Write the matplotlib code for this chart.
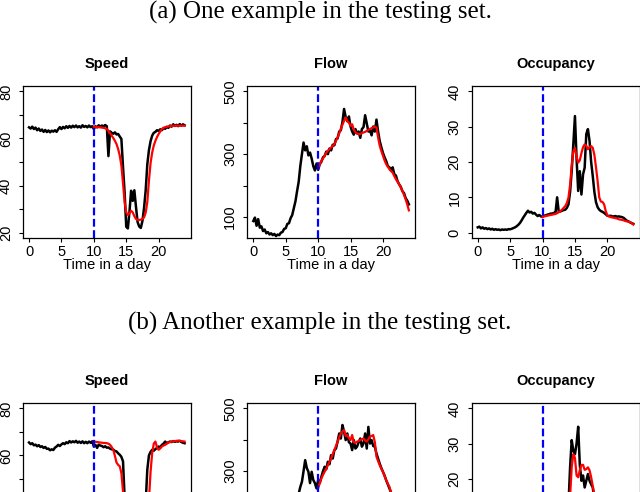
import numpy as np
import matplotlib
matplotlib.use("Agg")
import matplotlib.pyplot as plt

# observed series sampled every 15 min from 0h to 24h (rows = 2 hours),
# predictions every 15 min from 10h to 24h

speed_a_obs = [
    64.7, 64.2, 65.0, 64.0, 64.6, 63.5, 64.2, 63.2,
    63.8, 62.8, 63.6, 62.7, 63.4, 62.6, 63.3, 62.9,
    63.5, 62.8, 63.9, 64.8, 64.0, 64.9, 64.3, 65.2,
    64.5, 65.3, 64.6, 65.4, 64.8, 65.5, 64.7, 65.2,
    64.6, 65.6, 64.9, 65.3, 64.7, 65.5, 64.8, 65.2,
    64.0, 65.2, 64.7, 65.6, 65.0, 65.5, 65.1, 65.7,
    65.2, 52.5, 63.0, 62.4, 62.0, 62.6, 61.7, 61.9,
    60.8, 59.8, 48.0, 37.0, 22.5, 21.8, 29.0, 37.8,
    33.5, 38.0, 31.0, 24.5, 22.6, 22.0, 25.0, 30.5,
    38.0, 49.0, 55.0, 58.8, 61.2, 62.4, 62.8, 63.5,
    63.2, 63.9, 63.5, 64.4, 64.1, 64.9, 64.5, 65.5,
    65.0, 66.0, 65.3, 65.8, 65.2, 66.1, 65.4, 66.0,
    65.6]
speed_a_pred = [
    65.0, 64.9, 64.8, 64.8, 64.7, 64.6, 64.5, 64.3,
    64.0, 63.3, 62.3, 61.2, 60.2, 59.0, 57.6, 55.5,
    52.7, 48.5, 41.0, 33.0, 28.6, 27.5, 28.3, 29.3,
    28.6, 27.0, 25.8, 25.4, 25.4, 25.5, 25.8, 26.5,
    28.5, 33.0, 42.0, 49.5, 54.0, 57.0, 59.0, 60.6,
    61.9, 63.0, 64.0, 64.5, 64.8, 65.0, 65.1, 65.2,
    65.3, 65.4, 65.4, 65.4, 65.4, 65.4, 65.4, 65.4,
    65.4]

flow_a_obs = [
    87, 98, 72, 93, 66, 70, 55, 60,
    48, 52, 44, 48, 42, 46, 39, 44,
    42, 50, 52, 62, 64, 78, 80, 96,
    106, 128, 150, 182, 212, 262, 300, 337,
    312, 325, 296, 305, 286, 262, 248, 270,
    250, 268, 276, 290, 294, 308, 300, 318,
    312, 330, 328, 348, 350, 372, 376, 402,
    444, 418, 405, 420, 388, 372, 362, 380,
    366, 372, 352, 380, 386, 424, 398, 372,
    376, 360, 388, 372, 410, 372, 342, 322,
    304, 290, 278, 262, 258, 248, 258, 236,
    232, 214, 204, 196, 182, 176, 160, 152,
    140]
flow_a_pred = [
    257, 268, 279, 286, 295, 304, 311, 316,
    321, 326, 332, 342, 353, 366, 380, 394,
    406, 417, 405, 400, 390, 395, 378, 370,
    366, 364, 364, 367, 369, 371, 374, 377,
    380, 383, 385, 388, 385, 353, 327, 310,
    295, 280, 268, 260, 252, 246, 241, 230,
    220, 212, 204, 194, 183, 170, 156, 140,
    121]

occ_a_obs = [
    1.5, 1.7, 1.2, 1.5, 1.1, 1.3, 1.0, 1.2,
    0.9, 1.1, 0.8, 1.0, 0.8, 0.9, 0.7, 0.9,
    0.8, 0.9, 0.8, 1.0, 0.95, 1.1, 1.3, 1.5,
    1.8, 2.2, 2.7, 3.4, 4.2, 4.9, 5.6, 6.2,
    5.7, 5.9, 5.4, 5.6, 5.1, 4.7, 5.0, 4.6,
    4.5, 4.8, 4.9, 5.1, 5.2, 5.4, 5.4, 5.6,
    5.6, 10.0, 5.9, 6.0, 6.2, 6.4, 6.5, 7.0,
    8.0, 11.5, 17.5, 25.0, 33.0, 21.0, 11.8, 17.4,
    10.8, 16.5, 18.4, 27.9, 29.3, 26.0, 20.0, 16.0,
    11.5, 8.6, 7.2, 6.5, 6.1, 5.9, 5.6, 5.2,
    4.8, 4.7, 4.8, 4.6, 4.6, 4.7, 4.5, 4.6,
    4.5, 4.4, 4.2, 3.8, 3.4, 3.2, 2.9, 2.7,
    2.5]
occ_a_pred = [
    4.4, 4.6, 4.7, 4.8, 4.9, 5.0, 5.1, 5.2,
    5.3, 5.5, 5.8, 6.1, 6.5, 7.0, 7.5, 8.4,
    9.9, 13.5, 19.0, 23.0, 24.0, 21.5, 19.8, 20.5,
    22.5, 24.2, 25.0, 24.6, 23.6, 24.2, 24.5, 24.0,
    22.0, 18.5, 14.6, 10.0, 8.8, 8.7, 8.0, 6.1,
    4.9, 4.6, 4.4, 4.3, 4.2, 4.1, 4.0, 3.8,
    3.7, 3.6, 3.5, 3.3, 3.2, 3.1, 3.0, 2.7,
    2.3]

speed_b_obs = [
    65.5, 64.8, 65.2, 64.3, 64.6, 63.9, 64.4, 63.6,
    63.9, 63.2, 63.6, 62.8, 62.9, 62.2, 62.6, 62.3,
    63.3, 63.8, 64.5, 64.0, 64.7, 65.2, 64.8, 65.6,
    65.2, 66.1, 65.5, 66.0, 65.6, 66.2, 65.4, 65.9,
    65.3, 66.0, 65.2, 65.8, 65.2, 65.9, 65.4, 66.0,
    63.8, 64.5, 63.2, 64.6, 64.2, 64.0, 63.5, 63.9,
    63.3, 63.4, 62.9, 62.6, 62.5, 61.9, 61.7, 60.9,
    60.3, 59.4, 57.5, 42.0, 30.0, 24.0, 22.0, 23.0,
    24.0, 22.5, 23.0, 24.0, 23.0, 25.0, 27.0, 32.0,
    40.0, 54.0, 60.0, 61.5, 62.4, 62.0, 62.7, 63.2,
    63.8, 63.4, 64.5, 65.0, 65.9, 65.2, 65.6, 65.9,
    65.7, 66.1, 65.8, 66.0, 65.9, 66.2, 65.7, 65.4,
    65.2]
speed_b_pred = [
    65.9, 65.8, 65.7, 65.6, 65.5, 65.4, 65.3, 65.3,
    65.2, 65.0, 64.5, 63.6, 62.4, 59.8, 57.0, 56.0,
    55.4, 52.5, 44.8, 32.0, 26.0, 24.0, 23.5, 24.0,
    24.5, 24.0, 23.5, 24.0, 24.5, 24.0, 24.5, 26.0,
    28.0, 33.0, 41.0, 53.0, 61.0, 65.0, 65.9, 63.4,
    62.4, 63.0, 63.8, 64.2, 64.5, 65.0, 65.5, 65.7,
    65.9, 66.0, 66.1, 66.2, 66.3, 66.2, 66.1, 66.0,
    65.9]

flow_b_obs = [
    90, 78, 82, 70, 68, 60, 58, 52,
    50, 46, 48, 42, 44, 40, 42, 40,
    46, 50, 58, 66, 76, 90, 104, 122,
    140, 162, 186, 212, 228, 250, 266, 300,
    335, 310, 298, 262, 298, 272, 262, 245,
    271, 262, 282, 300, 314, 306, 330, 322,
    351, 340, 367, 372, 394, 420, 404, 447,
    426, 399, 420, 392, 388, 367, 399, 372,
    378, 392, 404, 378, 388, 420, 372, 441,
    388, 399, 380, 378, 356, 340, 324, 310,
    298, 286, 271, 258, 245, 232, 222, 206,
    196, 182, 172, 160, 150, 140, 132, 124,
    118]
flow_b_pred = [
    245, 262, 277, 288, 298, 308, 319, 330,
    340, 354, 367, 380, 394, 407, 420, 426,
    431, 412, 415, 405, 399, 415, 392, 390,
    394, 396, 399, 402, 404, 398, 394, 402,
    410, 412, 415, 392, 346, 332, 319, 308,
    298, 284, 271, 260, 250, 232, 218, 204,
    192, 180, 168, 158, 148, 138, 128, 120,
    112]

occ_b_obs = [
    1.2, 1.4, 1.1, 1.3, 1.0, 1.2, 0.9, 1.1,
    0.9, 1.0, 0.8, 0.9, 0.8, 0.9, 0.8, 0.9,
    0.9, 1.0, 1.1, 1.3, 1.5, 1.8, 2.2, 2.7,
    3.3, 3.9, 4.5, 5.0, 5.4, 5.8, 6.1, 5.8,
    5.6, 5.9, 5.5, 5.7, 5.3, 5.6, 5.2, 5.4,
    5.5, 5.3, 5.6, 5.8, 5.9, 6.1, 6.0, 6.3,
    6.4, 6.6, 6.8, 7.1, 7.4, 7.9, 8.6, 10.0,
    12.5, 23.3, 31.0, 28.0, 27.0, 30.0, 34.8, 24.0,
    19.5, 21.0, 17.6, 19.5, 21.4, 19.5, 18.5, 17.6,
    14.0, 10.5, 8.2, 7.0, 6.4, 6.0, 5.7, 5.5,
    5.3, 5.2, 5.0, 4.9, 4.8, 4.6, 4.5, 4.3,
    4.2, 4.0, 3.8, 3.6, 3.4, 3.2, 3.0, 2.8,
    2.6]
occ_b_pred = [
    5.4, 5.5, 5.6, 5.7, 5.8, 5.9, 6.0, 6.1,
    6.3, 6.5, 6.8, 7.1, 7.5, 8.0, 8.8, 10.0,
    11.5, 15.0, 23.3, 27.0, 26.0, 21.0, 20.5, 22.5,
    24.0, 24.0, 22.6, 22.8, 23.3, 22.5, 20.5, 18.0,
    15.5, 12.0, 9.5, 8.0, 7.0, 6.4, 6.0, 5.6,
    5.3, 5.1, 4.9, 4.7, 4.5, 4.3, 4.1, 3.9,
    3.7, 3.5, 3.3, 3.1, 2.9, 2.8, 2.7, 2.6,
    2.5]

titles = ["Speed", "Flow", "Occupancy"]
ylims = [(20, 80), (50, 500), (0, 40)]
yticks = [[20, 30, 40, 50, 60, 70, 80],
          [100, 200, 300, 400, 500],
          [0, 10, 20, 30, 40]]
ylabels = [["20", "", "40", "", "60", "", "80"],
           ["100", "", "300", "", "500"],
           ["0", "10", "20", "30", "40"]]
xticks = [0, 5, 10, 15, 20]
captions = ["(a) One example in the testing set.",
            "(b) Another example in the testing set."]
rows = [[(speed_a_obs, speed_a_pred), (flow_a_obs, flow_a_pred), (occ_a_obs, occ_a_pred)],
        [(speed_b_obs, speed_b_pred), (flow_b_obs, flow_b_pred), (occ_b_obs, occ_b_pred)]]
split_hour = 10
step = 0.25

plt.rcParams["font.family"] = ["Liberation Sans", "DejaVu Sans"]

W, H = 640.0, 492.0
fig = plt.figure(figsize=(W / 100, H / 100), dpi=100)

# panel placement in pixels (top-origin), R-like layout
lefts = [22.8, 247.1, 471.5]
pw, ph = 168.0, 152.6
row_tops = [85.7, 402.7]
caption_y = [12, 323]
title_y = [64, 381]

for r, row in enumerate(rows):
    fig.text(0.5, 1 - caption_y[r] / H, captions[r], ha="center", va="center",
             fontsize=18, family=["Liberation Serif", "DejaVu Serif"])
    bottom_px = row_tops[r] + ph
    for c, (obs, pred) in enumerate(row):
        ax = fig.add_axes([lefts[c] / W, (H - bottom_px) / H, pw / W, ph / H])
        t_obs = np.arange(len(obs)) * step
        t_pred = split_hour + np.arange(len(pred)) * step
        ax.plot(t_obs, obs, color="black", lw=1.8)
        ax.plot(t_pred, pred, color="red", lw=1.6)
        ax.axvline(split_hour, color="blue", lw=1.6, dashes=(3.5, 1.6))

        lo, hi = ylims[c]
        pad = 0.04 * (hi - lo)
        ax.set_ylim(lo - pad, hi + pad)
        ax.set_xlim(-0.96, 24.96)
        ax.set_xticks(xticks)

        # drop labels that would fall below the bottom edge of the page
        labs = []
        for v, lab in zip(yticks[c], ylabels[c]):
            ypx = row_tops[r] + (hi + pad - v) / (hi - lo + 2 * pad) * ph
            labs.append(lab if ypx < H - 8 else "")
        ax.set_yticks(yticks[c])
        ax.set_yticklabels(labs, rotation=90, va="center")
        ax.tick_params(length=3.1, width=0.8, labelsize=10.5)
        ax.tick_params(axis="y", pad=4)
        ax.tick_params(axis="x", pad=2)
        for s in ax.spines.values():
            s.set_linewidth(0.9)

        ax.text(0.5, 1 + (row_tops[r] - title_y[r]) / ph, titles[c],
                transform=ax.transAxes, ha="center", va="center",
                fontsize=10.5, fontweight="bold")
        if bottom_px < H:
            ax.text(0.5, -(265 - 238.3) / ph, "Time in a day", transform=ax.transAxes,
                    ha="center", va="center", fontsize=10.5)
        else:
            ax.set_xticklabels([])

fig.savefig("out.png", dpi=100)
